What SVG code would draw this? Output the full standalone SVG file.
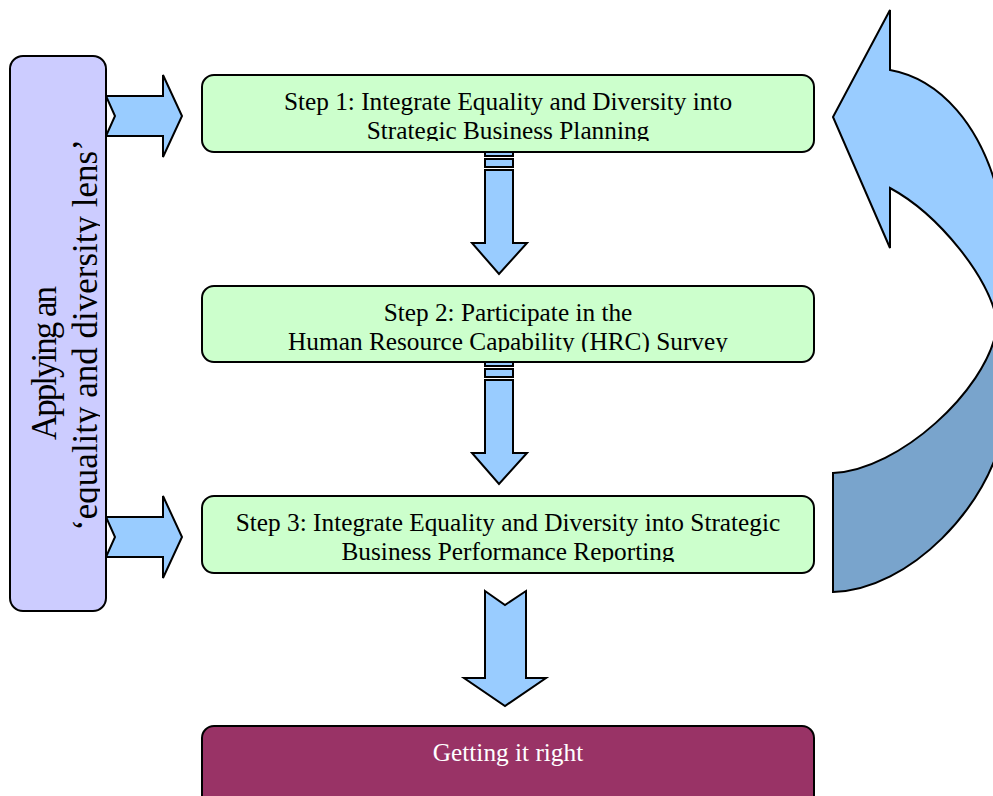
<svg xmlns="http://www.w3.org/2000/svg" width="993" height="796" viewBox="0 0 993 796">
<style>
.box{stroke:#000;stroke-width:2}
.step{fill:#ccffcc}
.lens{fill:#ccccff}
.arr{fill:#99ccff;stroke:#000;stroke-width:2;stroke-linejoin:miter}
.dark{fill:#79a4cc;stroke:#000;stroke-width:2}
.t{font-family:"Liberation Serif","Times New Roman",serif;font-size:25.3px;fill:#000;text-anchor:middle}
.lt{font-family:"Liberation Serif","Times New Roman",serif;font-size:35px;fill:#000;text-anchor:middle}
.w{fill:#fff}
</style>
<defs>
<clipPath id="c1"><rect x="202" y="75" width="612" height="66"/></clipPath>
<clipPath id="c2"><rect x="202" y="286" width="612" height="66"/></clipPath>
<clipPath id="c3"><rect x="202" y="496" width="612" height="66"/></clipPath>
<clipPath id="cl"><rect x="10" y="56" width="90" height="555"/></clipPath>
</defs>
<g id="connectors">
<path class="arr" d="M106,96 L163,96 L163,75 L182,116 L163,157 L163,136 L106,136 L115,116 Z"/>
<path class="arr" d="M106,517 L163,517 L163,496 L182,537 L163,578 L163,557 L106,557 L115,537 Z"/>
<rect class="arr" x="485" y="150" width="28" height="6"/>
<rect class="arr" x="485" y="159" width="28" height="8"/>
<path class="arr" d="M485,170 L513,170 L513,243 L527,243 L499,274 L472,243 L485,243 Z"/>
<rect class="arr" x="485" y="360" width="28" height="6"/>
<rect class="arr" x="485" y="369" width="28" height="8"/>
<path class="arr" d="M485,380 L513,380 L513,453 L527,453 L499,484 L472,453 L485,453 Z"/>
<path class="arr" d="M485,591 L505,605 L526,591 L526,678 L546,678 L505,706 L464,678 L485,678 Z"/>
<g id="loop-arrow">
<path class="dark" d="M996,332 C985,390 900,470 833,473 L833,592 C910,590 990,505 1003,430 L1010,430 L1010,332 Z"/>
<path class="arr" d="M833,117 L890,10 L890,70 C935,78 985,120 1003,215 L1010,215 L1010,318 L996,318 C990,280 940,215 890,188 L890,248 Z"/>
</g>
</g>
<g id="node-lens">
<rect class="box lens" x="10" y="56" width="96" height="555" rx="13"/>
<g clip-path="url(#cl)">
<text class="lt" letter-spacing="-2" transform="translate(56,364) rotate(-90)">Applying an</text>
<text class="lt" transform="translate(97,335) rotate(-90)">‘equality and diversity lens’</text>
</g>
</g>
<g id="node-step1">
<rect class="box step" x="202" y="75" width="612" height="77" rx="12"/>
<g clip-path="url(#c1)">
<text class="t" x="508" y="110">Step 1: Integrate Equality and Diversity into</text>
<text class="t" x="508" y="139">Strategic Business Planning</text>
</g>
</g>
<g id="node-step2">
<rect class="box step" x="202" y="286" width="612" height="76" rx="12"/>
<g clip-path="url(#c2)">
<text class="t" x="508" y="321">Step 2: Participate in the</text>
<text class="t" x="508" y="350">Human Resource Capability (HRC) Survey</text>
</g>
</g>
<g id="node-step3">
<rect class="box step" x="202" y="496" width="612" height="77" rx="12"/>
<g clip-path="url(#c3)">
<text class="t" x="508" y="531">Step 3: Integrate Equality and Diversity into Strategic</text>
<text class="t" x="508" y="560">Business Performance Reporting</text>
</g>
</g>
<g id="node-result">
<rect class="box" fill="#993366" x="202" y="726" width="612" height="90" rx="12"/>
<text class="t w" x="508" y="761">Getting it right</text>
</g>
</svg>
